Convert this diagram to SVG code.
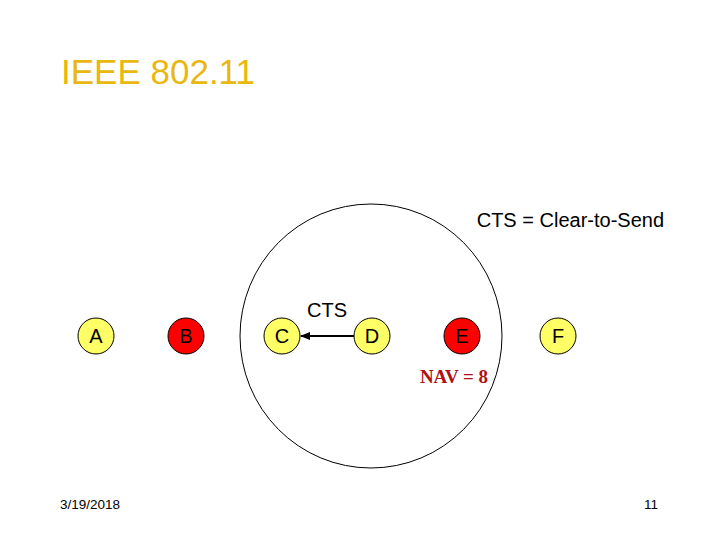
<svg xmlns="http://www.w3.org/2000/svg" width="720" height="540" viewBox="0 0 720 540">
<style>
.t{font-family:"Liberation Sans",Arial,sans-serif;fill:#000}
.lbl{font-size:20px;text-anchor:middle}
.y{fill:#FFFF66;stroke:#000;stroke-width:1}
.r{fill:#FF0000;stroke:#000;stroke-width:1}
</style>
<defs>
<marker id="ah" markerWidth="10" markerHeight="8" refX="9" refY="4" orient="auto" markerUnits="userSpaceOnUse">
<path d="M0,0 L10,4 L0,8 z" fill="#000"/>
</marker>
</defs>
<rect width="720" height="540" fill="#fff"/>
<text x="61" y="84" font-family="Liberation Sans,Arial,sans-serif" font-size="35" fill="#E8B810">IEEE 802.11</text>
<ellipse cx="371" cy="336" rx="131" ry="132" fill="none" stroke="#000" stroke-width="1"/>
<text class="t" x="664" y="227" font-size="20" text-anchor="end">CTS = Clear-to-Send</text>
<g id="connectors">
<line x1="354" y1="336" x2="301" y2="336" stroke="#000" stroke-width="2" marker-end="url(#ah)"/>
<text class="t" x="327" y="317" font-size="20" text-anchor="middle">CTS</text>
</g>
<g id="A"><circle class="y" cx="96" cy="336" r="18"/><text class="t lbl" x="96" y="343">A</text></g>
<g id="B"><circle class="r" cx="186" cy="336" r="18"/><text class="t lbl" x="186" y="343">B</text></g>
<g id="C"><circle class="y" cx="282" cy="336" r="18"/><text class="t lbl" x="282" y="343">C</text></g>
<g id="D"><circle class="y" cx="372" cy="336" r="18"/><text class="t lbl" x="372" y="343">D</text></g>
<g id="E"><circle class="r" cx="462" cy="336" r="18"/><text class="t lbl" x="462" y="343">E</text></g>
<g id="F"><circle class="y" cx="558" cy="336" r="18"/><text class="t lbl" x="558" y="343">F</text></g>
<text x="454" y="383" font-family="Liberation Serif,Times New Roman,serif" font-weight="bold" font-size="19" fill="#B01010" text-anchor="middle">NAV = 8</text>
<text class="t" x="60" y="509" font-size="13.5">3/19/2018</text>
<text class="t" x="658" y="509" font-size="13.5" text-anchor="end">11</text>
</svg>
